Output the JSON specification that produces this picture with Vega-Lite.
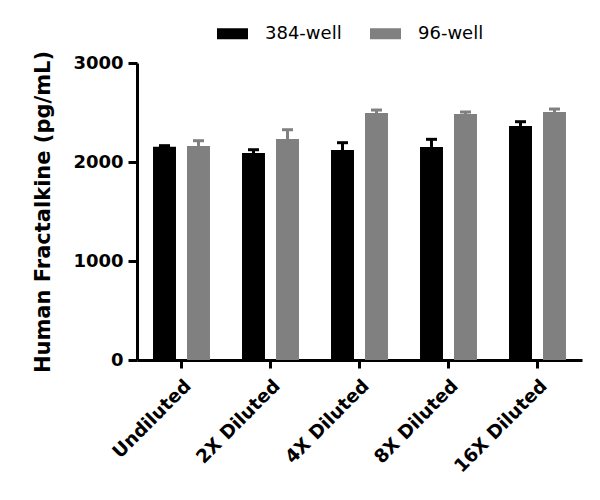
{
  "$schema": "https://vega.github.io/schema/vega-lite/v6.json",
  "autosize": "none",
  "width": 445,
  "height": 297,
  "padding": {"left": 137, "top": 63, "right": 18, "bottom": 140},
  "background": "white",
  "data": {
    "values": [
      {"condition": "Undiluted", "plate": "384-well", "value": 2155, "upper": 2165},
      {"condition": "Undiluted", "plate": "96-well", "value": 2162, "upper": 2215},
      {"condition": "2X Diluted", "plate": "384-well", "value": 2091, "upper": 2124},
      {"condition": "2X Diluted", "plate": "96-well", "value": 2232, "upper": 2326},
      {"condition": "4X Diluted", "plate": "384-well", "value": 2121, "upper": 2195},
      {"condition": "4X Diluted", "plate": "96-well", "value": 2495, "upper": 2525},
      {"condition": "8X Diluted", "plate": "384-well", "value": 2152, "upper": 2229},
      {"condition": "8X Diluted", "plate": "96-well", "value": 2485, "upper": 2505},
      {"condition": "16X Diluted", "plate": "384-well", "value": 2364, "upper": 2407},
      {"condition": "16X Diluted", "plate": "96-well", "value": 2505, "upper": 2535}
    ]
  },
  "encoding": {
    "x": {
      "field": "condition",
      "type": "nominal",
      "sort": null,
      "title": null,
      "scale": {"paddingInner": 0, "paddingOuter": 0},
      "axis": {
        "labelAngle": -45,
        "labelAlign": "right",
        "labelBaseline": "top",
        "labelPadding": 8,
        "labelFontSize": 18.5,
        "labelFontWeight": "bold",
        "tickSize": 8
      }
    },
    "xOffset": {
      "field": "plate",
      "type": "nominal",
      "scale": {"paddingInner": 0.324, "paddingOuter": 0.471}
    },
    "color": {
      "field": "plate",
      "type": "nominal",
      "title": null,
      "scale": {"domain": ["384-well", "96-well"], "range": ["#000000", "#808080"]},
      "legend": {
        "orient": "none",
        "direction": "horizontal",
        "legendX": 80,
        "legendY": -45,
        "symbolType": "M-1,-0.355L1,-0.355L1,0.355L-1,0.355Z",
        "symbolSize": 961,
        "symbolStrokeWidth": 0,
        "symbolOpacity": 1,
        "labelFontSize": 18,
        "labelOffset": 17,
        "columnPadding": 28,
        "labelColor": "#000000"
      }
    }
  },
  "layer": [
    {
      "mark": {"type": "bar", "opacity": 1},
      "encoding": {
        "y": {
          "field": "value",
          "type": "quantitative",
          "title": "Human Fractalkine (pg/mL)",
          "scale": {"domain": [0, 3000], "nice": false},
          "axis": {
            "values": [0, 1000, 2000, 3000],
            "format": "d",
            "labelFontSize": 18,
            "labelFontWeight": "bold",
            "tickSize": 9,
            "labelPadding": 5,
            "titleFontSize": 21,
            "titleFontWeight": "bold",
            "titlePadding": 19
          }
        }
      }
    },
    {
      "mark": {"type": "rule", "strokeWidth": 3},
      "encoding": {
        "y": {"field": "value", "type": "quantitative"},
        "y2": {"field": "upper"}
      }
    },
    {
      "mark": {"type": "tick", "thickness": 3, "size": 11, "opacity": 1},
      "encoding": {
        "y": {"field": "upper", "type": "quantitative"}
      }
    }
  ],
  "config": {
    "font": "DejaVu Sans",
    "view": {"stroke": null},
    "axis": {
      "grid": false,
      "domainColor": "#000000",
      "domainWidth": 3,
      "tickColor": "#000000",
      "tickWidth": 3,
      "labelColor": "#000000",
      "titleColor": "#000000"
    }
  }
}
